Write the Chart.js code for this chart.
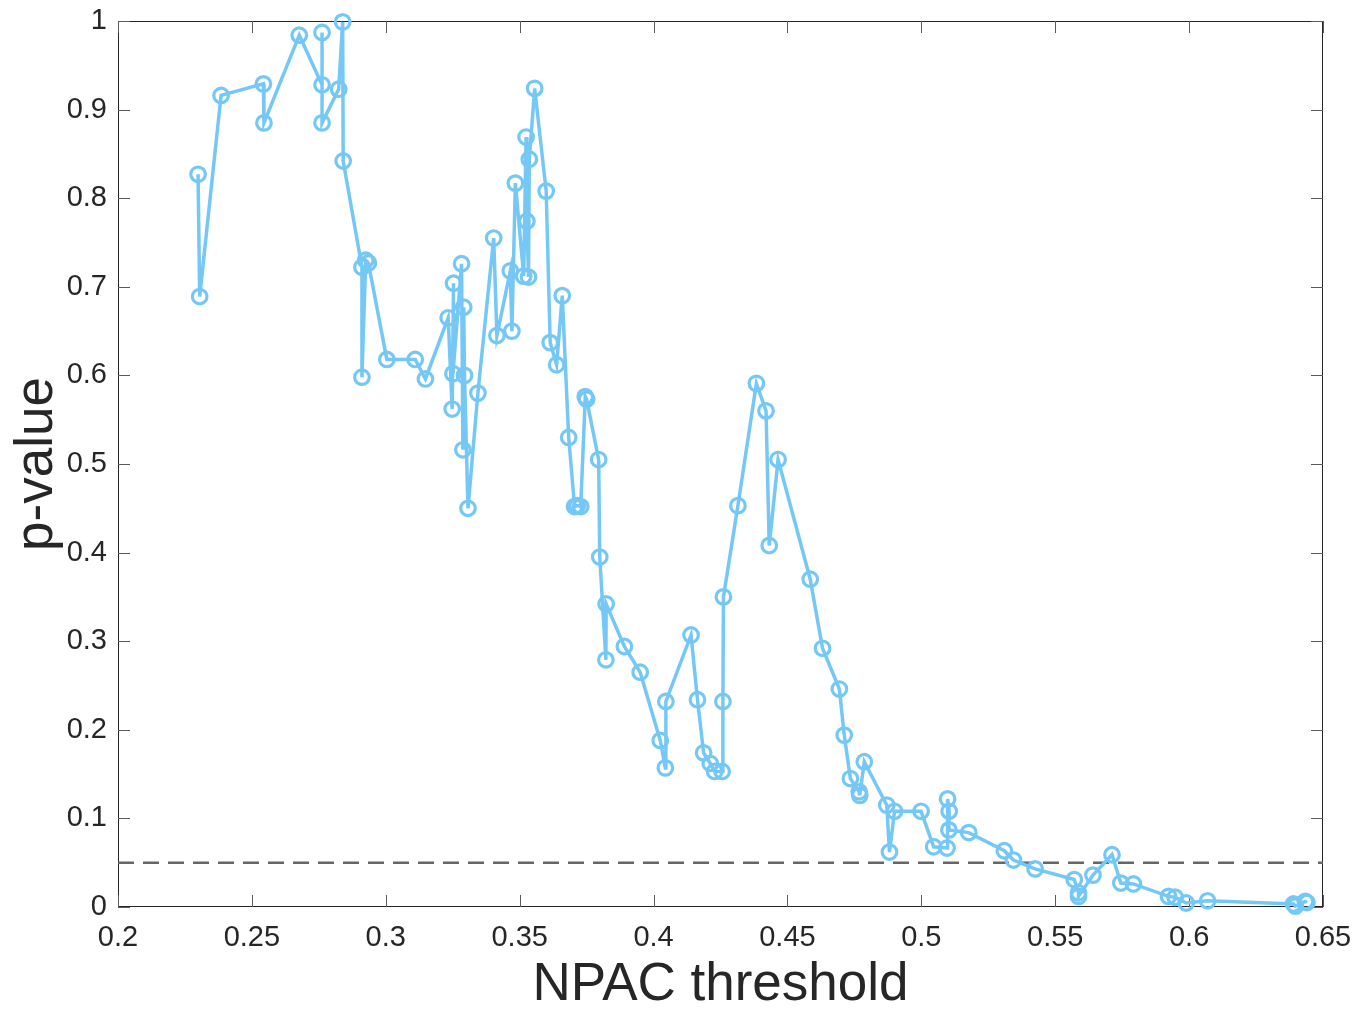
<!DOCTYPE html>
<html>
<head>
<meta charset="utf-8">
<title>p-value vs NPAC threshold</title>
<script src="https://cdn.jsdelivr.net/npm/chart.js@4.4.1/dist/chart.umd.min.js"></script>
<style>
  body { margin: 0; background: #fff; }
  #wrap { width: 1357px; height: 1011px; position: relative; }
</style>
</head>
<body>
<div id="wrap"><canvas id="chart"></canvas></div>
<script>
// NPAC threshold (x) and p-value (y), in the order the line joins them
var thresholds = [
  0.2299, 0.2305, 0.2385, 0.2543, 0.2545, 0.2677, 0.2762, 0.2762, 0.2762, 0.2824,
  0.2839, 0.2841, 0.2911, 0.2911, 0.2925, 0.2935, 0.3004, 0.3110, 0.3148, 0.3233,
  0.3248, 0.3253, 0.3251, 0.3283, 0.3288, 0.3291, 0.3294, 0.3307, 0.3344, 0.3403,
  0.3415, 0.3465, 0.3471, 0.3484, 0.3515, 0.3524, 0.3527, 0.3533, 0.3536, 0.3556,
  0.3599, 0.3614, 0.3638, 0.3659, 0.3683, 0.3705, 0.3715, 0.3728, 0.3745, 0.3750,
  0.3795, 0.3799, 0.3822, 0.3823, 0.3891, 0.3950, 0.4025, 0.4044, 0.4046, 0.4140,
  0.4164, 0.4187, 0.4212, 0.4228, 0.4256, 0.4259, 0.4261, 0.4315, 0.4384, 0.4420,
  0.4432, 0.4465, 0.4585, 0.4631, 0.4694, 0.4712, 0.4735, 0.4768, 0.4770, 0.4787,
  0.4871, 0.4881, 0.4900, 0.4999, 0.5046, 0.5096, 0.5098, 0.5104, 0.5103, 0.5177,
  0.5310, 0.5344, 0.5425, 0.5571, 0.5587, 0.5587, 0.5641, 0.5712, 0.5745, 0.5792,
  0.5923, 0.5948, 0.5989, 0.6069, 0.6390, 0.6397, 0.6434, 0.6440
];
var pValues = [
  0.827, 0.689, 0.916, 0.929, 0.885, 0.984, 0.928, 0.987, 0.885, 0.923,
  0.999, 0.842, 0.722, 0.598, 0.730, 0.727, 0.618, 0.618, 0.596, 0.665,
  0.562, 0.704, 0.602, 0.726, 0.516, 0.677, 0.600, 0.450, 0.580, 0.755,
  0.645, 0.718, 0.650, 0.817, 0.712, 0.869, 0.774, 0.711, 0.844, 0.924,
  0.808, 0.637, 0.612, 0.690, 0.530, 0.452, 0.453, 0.452, 0.576, 0.573,
  0.505, 0.395, 0.279, 0.342, 0.294, 0.265, 0.188, 0.157, 0.232, 0.307,
  0.234, 0.174, 0.162, 0.153, 0.153, 0.232, 0.350, 0.453, 0.591, 0.560,
  0.408, 0.505, 0.370, 0.292, 0.246, 0.194, 0.145, 0.130, 0.126, 0.164,
  0.115, 0.062, 0.108, 0.108, 0.068, 0.0665, 0.122, 0.108, 0.087, 0.084,
  0.0635, 0.053, 0.043, 0.031, 0.016, 0.012, 0.036, 0.059, 0.027, 0.026,
  0.012, 0.011, 0.0045, 0.007, 0.0034, 0.001, 0.0063, 0.005
];
// significance level, drawn across the whole x range
var alphaLevel = 0.05;
var xRange = [0.2, 0.65];
var yRange = [0, 1];

var points = thresholds.map(function(t, i) { return { x: t, y: pValues[i] }; });
var alphaLine = xRange.map(function(x) { return { x: x, y: alphaLevel }; });

var axisColor = '#262626';
var fontFamily = '"Liberation Sans", Arial, Helvetica, sans-serif';

function fmt(v) { return String(parseFloat(v.toFixed(2))); }

// box round the plot with inward ticks on all four sides, like MATLAB's "box on"
var boxPlugin = {
  id: 'boxTicks',
  beforeDatasetsDraw: function(chart) {
    var ctx = chart.ctx, a = chart.chartArea;
    var xs = chart.scales.x, ys = chart.scales.y;
    var len = 12;
    ctx.save();
    ctx.strokeStyle = axisColor;
    ctx.lineWidth = 1;
    ctx.strokeRect(a.left + 0.5, a.top + 0.5, a.right - a.left - 1, a.bottom - a.top - 1);
    ctx.strokeStyle = '#5a5a5a';
    ctx.beginPath();
    xs.ticks.forEach(function(t) {
      var px = Math.round(xs.getPixelForValue(t.value)) + 0.5;
      ctx.moveTo(px, a.bottom); ctx.lineTo(px, a.bottom - len);
      ctx.moveTo(px, a.top); ctx.lineTo(px, a.top + len);
    });
    ys.ticks.forEach(function(t) {
      var py = Math.round(ys.getPixelForValue(t.value)) + 0.5;
      ctx.moveTo(a.left, py); ctx.lineTo(a.left + len, py);
      ctx.moveTo(a.right, py); ctx.lineTo(a.right - len, py);
    });
    ctx.stroke();
    ctx.restore();
  }
};

new Chart(document.getElementById('chart').getContext('2d'), {
  type: 'line',
  data: {
    datasets: [{
      label: 'alpha',
      data: alphaLine,
      borderColor: '#666666',
      borderWidth: 2.5,
      borderDash: [16, 9],
      pointRadius: 0,
      fill: false,
      order: 2
    }, {
      label: 'p-value',
      data: points,
      borderColor: 'rgb(117, 200, 245)',
      borderWidth: 3.5,
      pointStyle: 'circle',
      pointRadius: 7.3,
      pointBorderWidth: 3.2,
      pointBackgroundColor: 'rgba(0,0,0,0)',
      pointBorderColor: 'rgb(117, 200, 245)',
      tension: 0,
      fill: false,
      clip: 10,
      order: 1
    }]
  },
  options: {
    responsive: true,
    maintainAspectRatio: false,
    animation: false,
    layout: { padding: { left: 0, right: 34, top: 21, bottom: 0 } },
    plugins: { legend: { display: false }, tooltip: { enabled: false } },
    scales: {
      x: {
        type: 'linear',
        min: xRange[0],
        max: xRange[1],
        afterFit: function(s) { s.height = 104; s.paddingLeft = 0; s.paddingRight = 0; },
        grid: { display: false, drawTicks: false },
        border: { display: false },
        ticks: {
          stepSize: 0.05,
          padding: 14,
          color: axisColor,
          font: { family: fontFamily, size: 29 },
          maxRotation: 0,
          callback: function(v) { return fmt(v); }
        },
        title: {
          display: true,
          text: 'NPAC threshold',
          color: axisColor,
          font: { family: fontFamily, size: 53, lineHeight: 1 },
          padding: { top: 0, bottom: -1 }
        }
      },
      y: {
        type: 'linear',
        min: yRange[0],
        max: yRange[1],
        afterFit: function(s) { s.width = 118; s.paddingTop = 0; s.paddingBottom = 0; },
        grid: { display: false, drawTicks: false },
        border: { display: false },
        ticks: {
          stepSize: 0.1,
          padding: 11,
          color: axisColor,
          font: { family: fontFamily, size: 29 },
          callback: function(v) { return fmt(v); }
        },
        title: {
          display: true,
          text: 'p-value',
          color: axisColor,
          font: { family: fontFamily, size: 53, lineHeight: 1 },
          padding: { top: 11, bottom: 0 }
        }
      }
    }
  },
  plugins: [boxPlugin]
});
</script>
</body>
</html>
